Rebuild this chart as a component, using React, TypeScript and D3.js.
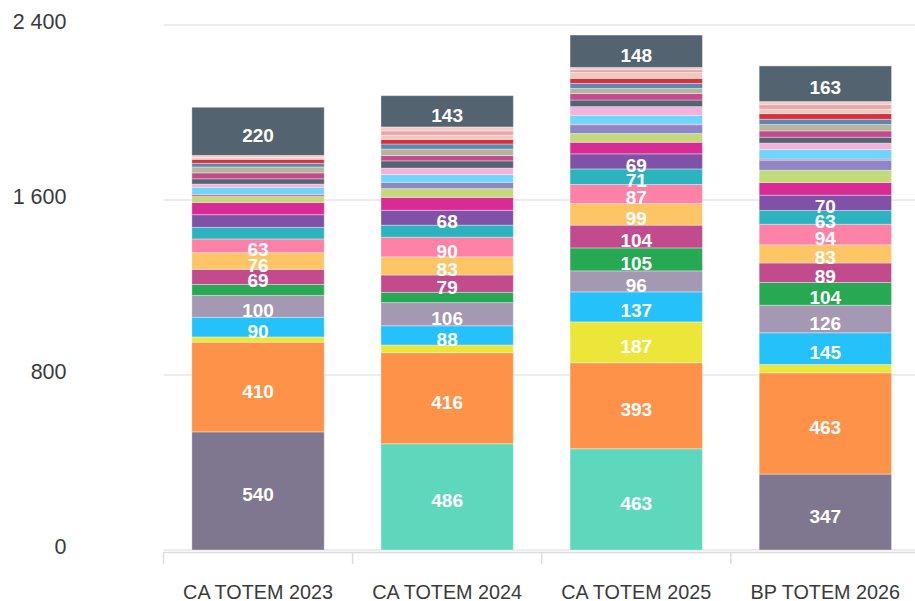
import React from 'react';
import * as d3 from 'd3';

// ---- data (bottom of stack first) ----
const categories = ['CA TOTEM 2023', 'CA TOTEM 2024', 'CA TOTEM 2025', 'BP TOTEM 2026'];
const yTickValues = [0, 800, 1600, 2400];

const sBase = [540, 0, 0, 347];
const sMint = [0, 486, 463, 0];
const sOrange = [410, 416, 393, 463];
const sYellow = [24, 35, 187, 38];
const sSky = [90, 88, 137, 145];
const sLilacGray = [100, 106, 96, 126];
const sGreen = [50, 47, 105, 104];
const sPlum = [69, 79, 104, 89];
const sApricot = [76, 83, 99, 83];
const sPink = [63, 90, 87, 94];
const sTeal = [53, 55, 71, 63];
const sPurple = [58, 68, 69, 70];
const sMagenta = [56, 59, 53, 58];
const sLime = [27, 40, 40, 56];
const sLavender = [0, 29, 40, 46];
const sRedPink = [8, 0, 3, 5];
const sLightSky = [34, 35, 40, 44];
const sOrchid = [15, 30, 40, 29];
const sSlate2 = [24, 33, 30, 27];
const sPlum2 = [27, 24, 30, 29];
const sSage = [27, 30, 23, 29];
const sSteel = [17, 23, 23, 24];
const sRed = [18, 21, 23, 26];
const sBlush = [8, 19, 27, 20];
const sRose = [0, 20, 13, 21];
const sPalePink = [10, 18, 10, 14];
const sSlateTop = [220, 143, 148, 163];

const seriesList = [
  { key: 'base', values: sBase, color: '#7f778f' },
  { key: 'mint', values: sMint, color: '#5ed8bd' },
  { key: 'orange', values: sOrange, color: '#fe9249' },
  { key: 'yellow', values: sYellow, color: '#ece63b' },
  { key: 'sky', values: sSky, color: '#24c1fb' },
  { key: 'lilacGray', values: sLilacGray, color: '#a498b2' },
  { key: 'green', values: sGreen, color: '#27a853' },
  { key: 'plum', values: sPlum, color: '#c14b8d' },
  { key: 'apricot', values: sApricot, color: '#fec566' },
  { key: 'pink', values: sPink, color: '#fe81a8' },
  { key: 'teal', values: sTeal, color: '#2bb4be' },
  { key: 'purple', values: sPurple, color: '#7f52a8' },
  { key: 'magenta', values: sMagenta, color: '#d92b94' },
  { key: 'lime', values: sLime, color: '#c2da7a' },
  { key: 'lavender', values: sLavender, color: '#8f86c6' },
  { key: 'redPink', values: sRedPink, color: '#d2506e' },
  { key: 'lightSky', values: sLightSky, color: '#6fd5fb' },
  { key: 'orchid', values: sOrchid, color: '#f2b2dc' },
  { key: 'slate2', values: sSlate2, color: '#556472' },
  { key: 'plum2', values: sPlum2, color: '#c14b8d' },
  { key: 'sage', values: sSage, color: '#b6b59b' },
  { key: 'steel', values: sSteel, color: '#5b87b0' },
  { key: 'red', values: sRed, color: '#d4313f' },
  { key: 'blush', values: sBlush, color: '#efc9bd' },
  { key: 'rose', values: sRose, color: '#e8a7a8' },
  { key: 'palePink', values: sPalePink, color: '#f6c9c8' },
  { key: 'slateTop', values: sSlateTop, color: '#546370' },
];

const W = 915;
const H = 601;
const FONT = '"Liberation Sans", Arial, Helvetica, sans-serif';

export default function App() {
  const rows = categories.map((c, i) => {
    const r: any = { category: c };
    seriesList.forEach((s) => (r[s.key] = s.values[i]));
    return r;
  });
  const stacked = d3.stack<any>().keys(seriesList.map((s) => s.key))(rows);

  const x = d3
    .scaleBand<string>()
    .domain(categories)
    .range([163.5, 919.9])
    .paddingInner(0.3)
    .paddingOuter(0.15);
  const y = d3.scaleLinear().domain([0, 2400]).range([550, 25]);
  const step = x.step();
  const x0 = 163.5;

  const fmt = (v: number) => d3.format(',')(v).replace(/,/g, ' ');

  return (
    <svg
      width={W}
      height={H}
      style={{ position: 'absolute', left: 0, top: 0, background: '#fff' }}
      fontFamily={FONT}
    >
      {/* grid lines */}
      {yTickValues.map((t) => (
        <line key={'g' + t} x1={x0} x2={W} y1={y(t)} y2={y(t)} stroke="#e6e6e6" strokeWidth={1.5} />
      ))}
      {/* y labels */}
      {yTickValues.map((t) => (
        <text key={'yl' + t} x={66.5} y={y(t) + 4} textAnchor="end" fontSize={21.5} fill="#3a3a3a">
          {fmt(t)}
        </text>
      ))}
      {/* bars */}
      {stacked.map((layer, li) => (
        <g key={layer.key} fill={seriesList[li].color}>
          {layer.map((d, i) => {
            const h = y(d[0]) - y(d[1]);
            if (h <= 0) return null;
            return (
              <rect
                key={i}
                x={x(categories[i])}
                y={y(d[1])}
                width={x.bandwidth()}
                height={h}
                stroke="#ffffff"
                strokeOpacity={0.35}
                strokeWidth={1}
              />
            );
          })}
        </g>
      ))}
      {/* data labels */}
      {stacked.map((layer, li) =>
        layer.map((d, i) => {
          const v = d[1] - d[0];
          if (v < 60) return null;
          const mid = (y(d[0]) + y(d[1])) / 2;
          return (
            <text
              key={layer.key + i}
              x={(x(categories[i]) as number) + x.bandwidth() / 2}
              y={mid + 10.5}
              textAnchor="middle"
              fontSize={19}
              fontWeight="bold"
              fill="#ffffff"
            >
              {v}
            </text>
          );
        })
      )}
      {/* x axis */}
      <line x1={x0} x2={W} y1={552.5} y2={552.5} stroke="#dcdcdc" strokeWidth={1.5} />
      {d3.range(categories.length + 1).map((i) => (
        <line
          key={'t' + i}
          x1={x0 + i * step}
          x2={x0 + i * step}
          y1={552}
          y2={564}
          stroke="#dcdcdc"
          strokeWidth={1.5}
        />
      ))}
      {categories.map((c) => (
        <text
          key={'xl' + c}
          x={(x(c) as number) + x.bandwidth() / 2}
          y={599}
          textAnchor="middle"
          fontSize={19.8}
          fill="#3a3a3a"
        >
          {c}
        </text>
      ))}
    </svg>
  );
}
